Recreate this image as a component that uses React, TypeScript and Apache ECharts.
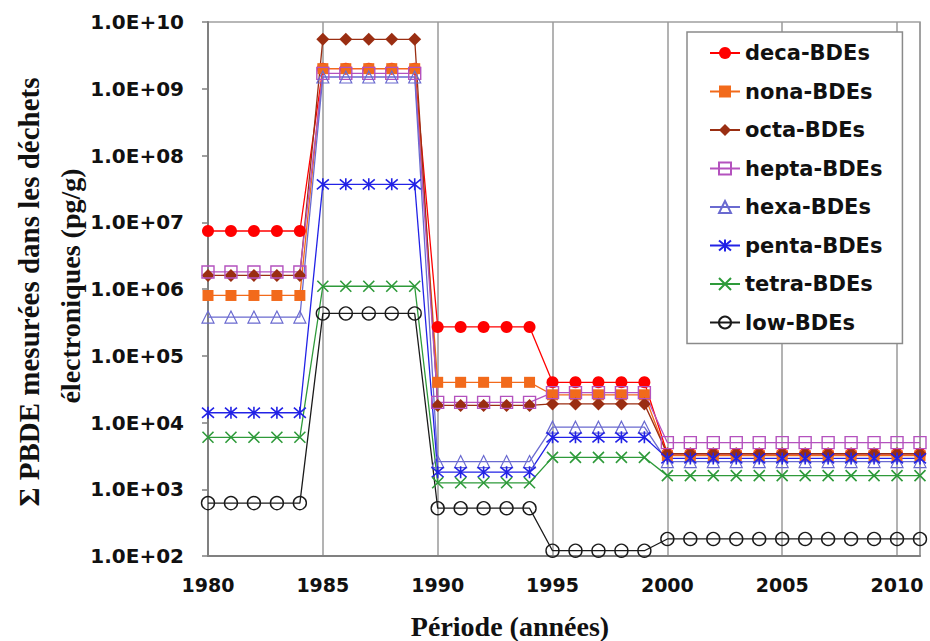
import React, { useEffect, useRef } from "react";
import * as echarts from "echarts";

const years = [
  1980, 1981, 1982, 1983, 1984, 1985, 1986, 1987, 1988, 1989,
  1990, 1991, 1992, 1993, 1994, 1995, 1996, 1997, 1998, 1999,
  2000, 2001, 2002, 2003, 2004, 2005, 2006, 2007, 2008, 2009, 2010, 2011,
];

const deca = [
  7.4e6, 7.4e6, 7.4e6, 7.4e6, 7.4e6, 2.0e9, 2.0e9, 2.0e9, 2.0e9, 2.0e9,
  2.7e5, 2.7e5, 2.7e5, 2.7e5, 2.7e5, 4.0e4, 4.0e4, 4.0e4, 4.0e4, 4.0e4,
  3.4e3, 3.4e3, 3.4e3, 3.4e3, 3.4e3, 3.4e3, 3.4e3, 3.4e3, 3.4e3, 3.4e3, 3.4e3, 3.4e3,
];
const nona = [
  8.0e5, 8.0e5, 8.0e5, 8.0e5, 8.0e5, 2.0e9, 2.0e9, 2.0e9, 2.0e9, 2.0e9,
  4.0e4, 4.0e4, 4.0e4, 4.0e4, 4.0e4, 2.6e4, 2.6e4, 2.6e4, 2.6e4, 2.6e4,
  3.2e3, 3.2e3, 3.2e3, 3.2e3, 3.2e3, 3.2e3, 3.2e3, 3.2e3, 3.2e3, 3.2e3, 3.2e3, 3.2e3,
];
const octa = [
  1.6e6, 1.6e6, 1.6e6, 1.6e6, 1.6e6, 5.5e9, 5.5e9, 5.5e9, 5.5e9, 5.5e9,
  1.8e4, 1.8e4, 1.8e4, 1.8e4, 1.8e4, 1.9e4, 1.9e4, 1.9e4, 1.9e4, 1.9e4,
  3.4e3, 3.4e3, 3.4e3, 3.4e3, 3.4e3, 3.4e3, 3.4e3, 3.4e3, 3.4e3, 3.4e3, 3.4e3, 3.4e3,
];
const hepta = [
  1.8e6, 1.8e6, 1.8e6, 1.8e6, 1.8e6, 1.7e9, 1.7e9, 1.7e9, 1.7e9, 1.7e9,
  2.0e4, 2.0e4, 2.0e4, 2.0e4, 2.0e4, 2.8e4, 2.8e4, 2.8e4, 2.8e4, 2.8e4,
  5.0e3, 5.0e3, 5.0e3, 5.0e3, 5.0e3, 5.0e3, 5.0e3, 5.0e3, 5.0e3, 5.0e3, 5.0e3, 5.0e3,
];
const hexa = [
  3.8e5, 3.8e5, 3.8e5, 3.8e5, 3.8e5, 1.5e9, 1.5e9, 1.5e9, 1.5e9, 1.5e9,
  2.6e3, 2.6e3, 2.6e3, 2.6e3, 2.6e3, 8.5e3, 8.5e3, 8.5e3, 8.5e3, 8.5e3,
  2.6e3, 2.6e3, 2.6e3, 2.6e3, 2.6e3, 2.6e3, 2.6e3, 2.6e3, 2.6e3, 2.6e3, 2.6e3, 2.6e3,
];
const penta = [
  1.4e4, 1.4e4, 1.4e4, 1.4e4, 1.4e4, 3.7e7, 3.7e7, 3.7e7, 3.7e7, 3.7e7,
  1.8e3, 1.8e3, 1.8e3, 1.8e3, 1.8e3, 6.0e3, 6.0e3, 6.0e3, 6.0e3, 6.0e3,
  2.9e3, 2.9e3, 2.9e3, 2.9e3, 2.9e3, 2.9e3, 2.9e3, 2.9e3, 2.9e3, 2.9e3, 2.9e3, 2.9e3,
];
const tetra = [
  6.0e3, 6.0e3, 6.0e3, 6.0e3, 6.0e3, 1.1e6, 1.1e6, 1.1e6, 1.1e6, 1.1e6,
  1.25e3, 1.25e3, 1.25e3, 1.25e3, 1.25e3, 3.0e3, 3.0e3, 3.0e3, 3.0e3, 3.0e3,
  1.6e3, 1.6e3, 1.6e3, 1.6e3, 1.6e3, 1.6e3, 1.6e3, 1.6e3, 1.6e3, 1.6e3, 1.6e3, 1.6e3,
];
const low = [
  620, 620, 620, 620, 620, 4.3e5, 4.3e5, 4.3e5, 4.3e5, 4.3e5,
  520, 520, 520, 520, 520, 120, 120, 120, 120, 120,
  180, 180, 180, 180, 180, 180, 180, 180, 180, 180, 180, 180,
];

const seriesNames = [
  "deca-BDEs", "nona-BDEs", "octa-BDEs", "hepta-BDEs",
  "hexa-BDEs", "penta-BDEs", "tetra-BDEs", "low-BDEs",
];
const yTickLabels = [
  "1.0E+02", "1.0E+03", "1.0E+04", "1.0E+05", "1.0E+06",
  "1.0E+07", "1.0E+08", "1.0E+09", "1.0E+10",
];
const xTickLabels = ["1980", "1985", "1990", "1995", "2000", "2005", "2010"];

const STAR = "path://M5,0 L5,10 M0.8,0.8 L9.2,9.2 M9.2,0.8 L0.8,9.2";
const CROSS = "path://M0,0 L10,10 M10,0 L0,10";

export default function App() {
  const ref = useRef<HTMLDivElement>(null);

  useEffect(() => {
    if (!ref.current) return;
    const chart = echarts.init(ref.current, null, { renderer: "svg" });

    const values = [deca, nona, octa, hepta, hexa, penta, tetra, low];
    const styles: any[] = [
      { color: "#FF0000", symbol: "circle", size: 12, fill: "#FF0000", bw: 0 },
      { color: "#F26A1B", symbol: "rect", size: 11, fill: "#F26A1B", bw: 0 },
      { color: "#9A2E12", symbol: "diamond", size: 13, fill: "#9A2E12", bw: 0 },
      { color: "#B452BE", symbol: "rect", size: 12, fill: "rgba(0,0,0,0)", bw: 1.4 },
      { color: "#6A6AD0", symbol: "triangle", size: 12, fill: "rgba(0,0,0,0)", bw: 1.2 },
      { color: "#2222E6", symbol: STAR, size: 12, fill: "#2222E6", bw: 1.6 },
      { color: "#2E9A3A", symbol: CROSS, size: 11, fill: "#2E9A3A", bw: 1.6 },
      { color: "#1A1A1A", symbol: "circle", size: 13, fill: "rgba(0,0,0,0)", bw: 1.4 },
    ];

    const series = values.map((vals, i) => {
      const s = styles[i];
      return {
        name: seriesNames[i],
        type: "line",
        data: years.map((y, j) => [y, vals[j]]),
        symbol: s.symbol,
        symbolSize: s.size,
        showAllSymbol: true,
        lineStyle: { color: s.color, width: 1.3 },
        itemStyle: {
          color: s.fill,
          borderColor: s.color,
          borderWidth: s.bw,
        },
        emphasis: { disabled: true },
      };
    });

    chart.setOption({
      animation: false,
      backgroundColor: "#ffffff",
      grid: {
        left: 208,
        right: 10,
        top: 22,
        bottom: 85,
        show: true,
        borderColor: "#A0A0A0",
        borderWidth: 1.5,
      },
      legend: {
        orient: "vertical",
        left: 687,
        top: 32,
        padding: [9, 20, 9, 22],
        itemGap: 14.5,
        itemWidth: 30,
        itemHeight: 15,
        backgroundColor: "#ffffff",
        borderColor: "#8A8A8A",
        borderWidth: 1.5,
        borderRadius: 0,
        textStyle: {
          fontFamily: "DejaVu Sans",
          fontWeight: "bold",
          fontSize: 21,
          color: "#111111",
          lineHeight: 24,
        },
        data: seriesNames,
      },
      xAxis: {
        type: "value",
        min: 1980,
        max: 2011,
        interval: 5,
        axisLine: { show: true, lineStyle: { color: "#808080", width: 2 } },
        axisTick: { show: false },
        splitLine: { show: true, lineStyle: { color: "#9A9A9A", width: 1.5 } },
        axisLabel: {
          margin: 19,
          fontFamily: "DejaVu Sans",
          fontWeight: "bold",
          fontSize: 19,
          color: "#111111",
          formatter: (v: number) => {
            const idx = xTickLabels.indexOf(String(v));
            return idx >= 0 ? xTickLabels[idx] : "";
          },
        },
      },
      yAxis: {
        type: "log",
        logBase: 10,
        min: 100,
        max: 1e10,
        axisLine: { show: true, lineStyle: { color: "#808080", width: 2 } },
        axisTick: { show: true, length: 6, lineStyle: { color: "#808080", width: 1.5 } },
        minorTick: { show: false },
        splitLine: { show: false },
        axisLabel: {
          margin: 24,
          fontFamily: "DejaVu Sans",
          fontWeight: "bold",
          fontSize: 20,
          color: "#111111",
          formatter: (v: number) => {
            const e = Math.round(Math.log10(v));
            return yTickLabels[e - 2] ?? "";
          },
        },
      },
      graphic: [
        {
          type: "text",
          x: 29,
          y: 292,
          rotation: Math.PI / 2,
          style: {
            text: "Σ PBDE mesurées dans les déchets",
            fontFamily: "Liberation Serif",
            fontWeight: "bold",
            fontSize: 29,
            fill: "#111111",
            align: "center",
            verticalAlign: "middle",
          },
        },
        {
          type: "text",
          x: 70,
          y: 286,
          rotation: Math.PI / 2,
          style: {
            text: "électroniques (pg/g)",
            fontFamily: "Liberation Serif",
            fontWeight: "bold",
            fontSize: 28,
            fill: "#111111",
            align: "center",
            verticalAlign: "middle",
          },
        },
        {
          type: "text",
          x: 510,
          y: 626,
          style: {
            text: "Période (années)",
            fontFamily: "Liberation Serif",
            fontWeight: "bold",
            fontSize: 28,
            fill: "#111111",
            align: "center",
            verticalAlign: "middle",
          },
        },
      ],
      series,
    });

    return () => chart.dispose();
  }, []);

  return <div ref={ref} style={{ width: 930, height: 641, position: "fixed", left: 0, top: 0 }} />;
}
